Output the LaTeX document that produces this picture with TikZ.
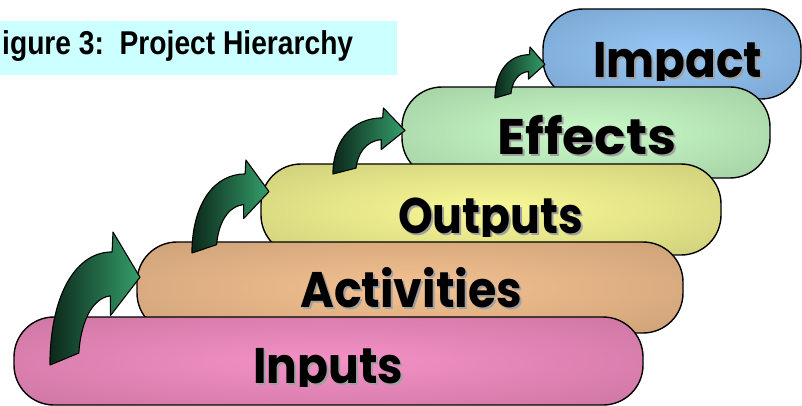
\documentclass[tikz,border=0pt]{standalone}
\usepackage{fontspec}
\usepackage{graphicx}
\setmainfont{Liberation Sans}
\newfontfamily\lblfont{Poppins}
\definecolor{titlebg}{HTML}{CCFFFF}
\definecolor{arrdark}{RGB}{12,40,26}
\definecolor{arrlight}{RGB}{52,158,106}
\definecolor{shadowgray}{RGB}{160,160,160}
\pgfdeclareradialshading{inputsShade}{\pgfpoint{0bp}{0bp}}{rgb(0bp)=(0.96,0.57,0.78); rgb(50bp)=(0.74,0.42,0.58)}
\pgfdeclareradialshading{activitiesShade}{\pgfpoint{0bp}{0bp}}{rgb(0bp)=(0.96,0.76,0.57); rgb(50bp)=(0.74,0.58,0.43)}
\pgfdeclareradialshading{outputsShade}{\pgfpoint{0bp}{0bp}}{rgb(0bp)=(0.98,0.98,0.59); rgb(50bp)=(0.74,0.74,0.44)}
\pgfdeclareradialshading{effectsShade}{\pgfpoint{0bp}{0bp}}{rgb(0bp)=(0.79,0.98,0.79); rgb(50bp)=(0.58,0.75,0.58)}
\pgfdeclareradialshading{impactShade}{\pgfpoint{0bp}{0bp}}{rgb(0bp)=(0.60,0.79,0.97); rgb(50bp)=(0.42,0.58,0.75)}
\tikzset{
  pill/.style={draw=black, line width=1.4pt, rounded corners=40pt, shade, inner sep=0pt},
  lbl/.style={anchor=base west, inner sep=0pt, font=\lblfont\bfseries\fontsize{50}{50}\selectfont},
  arrowbody/.style={draw=black, line width=1.1pt, left color=arrdark, right color=arrlight, line join=round},
  bigarrow/.pic={
    \path[arrowbody] (0,0) -- (0.32,0.09)
      .. controls (0.34,0.30) and (0.45,0.50) .. (0.67,0.52)
      -- (0.67,0.37) -- (1,0.66) -- (0.70,1) -- (0.69,0.85)
      .. controls (0.30,0.85) and (0.02,0.55) .. (0,0.05) -- cycle;
  }
}
\newcommand\pilllabel[5]{%
  \begin{scope}
    \clip (0,0) rectangle (802,#3+3);
    \node[lbl, text=shadowgray] at (#2+2,#3+2) {\resizebox{#4pt}{\height}{#5}};
    \node[lbl] (#1) at (#2,#3) {\resizebox{#4pt}{\height}{#5}};
  \end{scope}}
\begin{document}
\begin{tikzpicture}[x=1pt,y=-1pt]
\useasboundingbox (0,0) rectangle (802,406);
% title
\node[fill=titlebg, inner sep=0pt, minimum width=397pt, minimum height=54pt, anchor=north west] (titlebox) at (0,21) {};
\node[anchor=base west, inner sep=0pt, font=\bfseries\fontsize{33}{33}\selectfont] (title) at (2,55) {\resizebox{351pt}{\height}{igure 3:\ \ Project Hierarchy}};
% pills, back to front
\node[pill, shading=impactShade, minimum width=258pt, minimum height=90pt] (impact) at (672,54) {};
\node[pill, shading=effectsShade, minimum width=368pt, minimum height=91pt] (effects) at (586,132.5) {};
\node[pill, shading=outputsShade, minimum width=460pt, minimum height=91pt] (outputs) at (491,209.5) {};
\node[pill, shading=activitiesShade, minimum width=546pt, minimum height=91pt] (activities) at (410,287.5) {};
\node[pill, shading=inputsShade, minimum width=629pt, minimum height=88pt] (inputs) at (328.5,361) {};
% labels
\pilllabel{impactlbl}{593}{78}{169}{Impact}
\pilllabel{effectslbl}{497}{155}{179}{Effects}
\pilllabel{outputslbl}{398}{233}{185}{Outputs}
\pilllabel{activitieslbl}{300}{307}{222}{Activities}
\pilllabel{inputslbl}{253}{383}{150}{Inputs}
% arrows
\begin{scope}[shift={(50,365)}, x=90pt, y=133pt] \pic {bigarrow}; \end{scope}
\begin{scope}[shift={(192,253)}, x=77pt, y=93pt] \pic {bigarrow}; \end{scope}
\begin{scope}[shift={(333,174)}, x=72pt, y=66pt] \pic {bigarrow}; \end{scope}
\begin{scope}[shift={(495,98)}, x=50pt, y=51pt] \pic {bigarrow}; \end{scope}
\end{tikzpicture}
\end{document}
